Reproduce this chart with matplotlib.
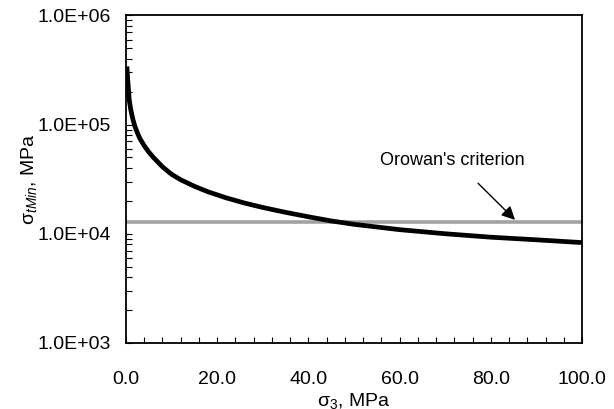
import matplotlib
matplotlib.use('Agg')
import matplotlib.pyplot as plt
import numpy as np
from matplotlib.ticker import FixedLocator, LogLocator, NullFormatter

plt.rcParams['font.family'] = ['Liberation Sans', 'DejaVu Sans']
plt.rcParams['mathtext.fontset'] = 'custom'
plt.rcParams['mathtext.rm'] = 'Liberation Sans'
plt.rcParams['mathtext.it'] = 'Liberation Sans:italic'

# sigma_3 (MPa) vs sigma_tMin (MPa)
sigma3 = [0.2, 0.4, 0.7, 1.0, 1.5, 2.0, 2.5, 3.0, 4.0, 5.0, 6.0, 8.0, 10, 12, 15,
          18, 22, 26, 30, 35, 40, 45, 50, 60, 70, 80, 90, 100]
sigma_tmin = [3.4e5, 2.5e5, 1.7e5, 1.4e5, 1.12e5, 9.5e4, 8.4e4, 7.5e4, 6.4e4, 5.6e4,
              5.0e4, 4.1e4, 3.5e4, 3.12e4, 2.72e4, 2.42e4, 2.13e4, 1.91e4, 1.74e4,
              1.57e4, 1.43e4, 1.31e4, 1.22e4, 1.09e4, 1.0e4, 9.3e3, 8.8e3, 8.3e3]
orowan_x = [0, 100]
orowan_y = [1.28e4, 1.28e4]

x_ticks = [0, 20, 40, 60, 80, 100]
x_labels = ['0.0', '20.0', '40.0', '60.0', '80.0', '100.0']
y_ticks = [1e3, 1e4, 1e5, 1e6]
y_labels = ['1.0E+03', '1.0E+04', '1.0E+05', '1.0E+06']


def main():
    fig = plt.figure(figsize=(6.14, 4.09), dpi=100)
    ax = fig.add_axes([0.2052, 0.1614, 0.7428, 0.8012])

    ax.plot(orowan_x, orowan_y, color='#a2a2a2', linewidth=2.6, solid_capstyle='butt')
    ax.plot(sigma3, sigma_tmin, color='black', linewidth=3.4,
            solid_capstyle='butt', solid_joinstyle='round')

    ax.set_yscale('log')
    ax.set_xlim(0, 100)
    ax.set_ylim(1e3, 1e6)

    ax.set_xticks(x_ticks)
    ax.set_xticklabels(x_labels)
    ax.xaxis.set_minor_locator(FixedLocator(np.arange(0, 101, 4)))
    ax.set_yticks(y_ticks)
    ax.set_yticklabels(y_labels)
    ax.yaxis.set_minor_locator(LogLocator(base=10, subs=np.arange(2, 10)))
    ax.yaxis.set_minor_formatter(NullFormatter())

    ax.tick_params(which='both', direction='in', top=False, right=False,
                   labelsize=14, width=0.8)
    ax.tick_params(axis='x', which='both', length=4, pad=20)
    ax.tick_params(axis='y', which='both', length=4, pad=11)

    for sp in ax.spines.values():
        sp.set_linewidth(1.3)

    ax.set_xlabel('σ$_{3}$, MPa', fontsize=14, labelpad=2)
    ax.set_ylabel('σ$_{tMin}$, MPa', fontsize=14, labelpad=-1)

    ax.annotate("Orowan's criterion", xy=(85.3, 1.34e4), xytext=(55.7, 4.7e4),
                fontsize=13, va='center', ha='left')
    ax.annotate('', xy=(85.3, 1.34e4), xytext=(77.2, 2.9e4),
                arrowprops=dict(arrowstyle='-|>', color='black', lw=1.0,
                                mutation_scale=20, shrinkA=0, shrinkB=0))

    fig.savefig('out.png', dpi=100)


if __name__ == '__main__':
    main()
